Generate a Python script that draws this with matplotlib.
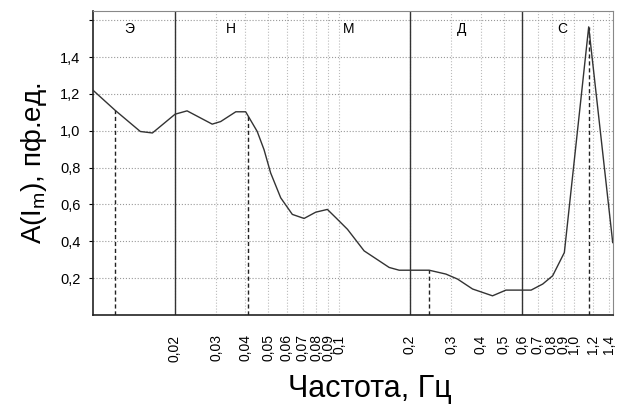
import numpy as np
import matplotlib
matplotlib.use("Agg")
import matplotlib.pyplot as plt

plt.rcParams['font.family'] = ['Liberation Sans', 'DejaVu Sans']

# --- данные кривой ---
freq = [0.009, 0.0112, 0.0143, 0.0161, 0.0201, 0.0226, 0.0289, 0.0314, 0.0364,
        0.0401, 0.0449, 0.048, 0.0512, 0.0565, 0.0633, 0.071, 0.0796, 0.0892,
        0.0969, 0.1086, 0.1278, 0.1633, 0.1801, 0.2416, 0.2846, 0.3188,
        0.3694, 0.449, 0.512, 0.655, 0.734, 0.809, 0.907, 1.151, 1.456]
amp = [1.22, 1.11, 0.996, 0.988, 1.09, 1.108, 1.036, 1.05, 1.103,
       1.103, 0.996, 0.897, 0.771, 0.636, 0.546, 0.524, 0.558, 0.573,
       0.528, 0.465, 0.348, 0.258, 0.243, 0.243, 0.222, 0.195,
       0.141, 0.104, 0.135, 0.135, 0.168, 0.213, 0.339, 1.564, 0.393]

# границы диапазонов и отметки максимумов
borders = [0.02, 0.2, 0.6]
markers = [0.0112, 0.041, 0.2416, 1.151]
ranges = ['Э', 'Н', 'М', 'Д', 'С']
range_x = [0.0128, 0.0347, 0.110, 0.331, 0.89]

xticks = [0.02, 0.03, 0.04, 0.05, 0.06, 0.07, 0.08, 0.09, 0.1,
          0.2, 0.3, 0.4, 0.5, 0.6, 0.7, 0.8, 0.9, 1.0, 1.2, 1.4]
yticks = [0.2, 0.4, 0.6, 0.8, 1.0, 1.2, 1.4, 1.6]

fig = plt.figure(figsize=(6.25, 4.08), dpi=100)
ax = fig.add_axes([0.1488, 0.228, 0.832, 0.745])

ax.set_xscale('log')
ax.set_xlim(0.009, 1.46)
ax.set_ylim(0, 1.65)

# сетка
for t in xticks:
    ax.axvline(t, color='#bbbbbb', lw=0.8, ls=':', zorder=1)
for t in yticks:
    ax.axhline(t, color='#999999', lw=0.8, ls=':', zorder=1)

for b in borders:
    ax.axvline(b, color='#333333', lw=1.0, zorder=2)

for m in markers:
    ytop = np.interp(np.log10(m), np.log10(freq), amp)
    ax.vlines(m, 0, ytop, color='#222222', lw=1.0, ls=(0, (3, 2)), zorder=2)

ax.plot(freq, amp, color='#333333', lw=1.0, zorder=3)

for name, xr in zip(ranges, range_x):
    ax.text(xr, 1.555, name, ha='center', va='center', fontsize=10)

ax.set_xticks(xticks)
ax.set_xticklabels([('%g' % t).replace('.', ',') if t != 1.0 else '1,0' for t in xticks],
                   rotation=90, fontsize=10)
ax.xaxis.set_minor_locator(matplotlib.ticker.NullLocator())
ax.set_yticks(yticks)
ax.set_yticklabels([('%.1f' % t).replace('.', ',') if t < 1.5 else '' for t in yticks],
                   fontsize=10.5)
ax.tick_params(axis='x', length=0, pad=14)
ax.tick_params(axis='y', length=3, pad=6)

for s in ['top', 'right']:
    ax.spines[s].set_color('#888888')
for s in ['left', 'bottom']:
    ax.spines[s].set_color('#222222')
    ax.spines[s].set_linewidth(1.2)

ax.set_xlabel('Частота, Гц', fontsize=22, labelpad=2)
ax.xaxis.set_label_coords(0.533, -0.195)
ax.xaxis.label.set_va('top')
ax.set_ylabel(r'A(I$_\mathregular{m}$), пф.ед.', fontsize=20, labelpad=8)

fig.savefig('out.png', dpi=100)
